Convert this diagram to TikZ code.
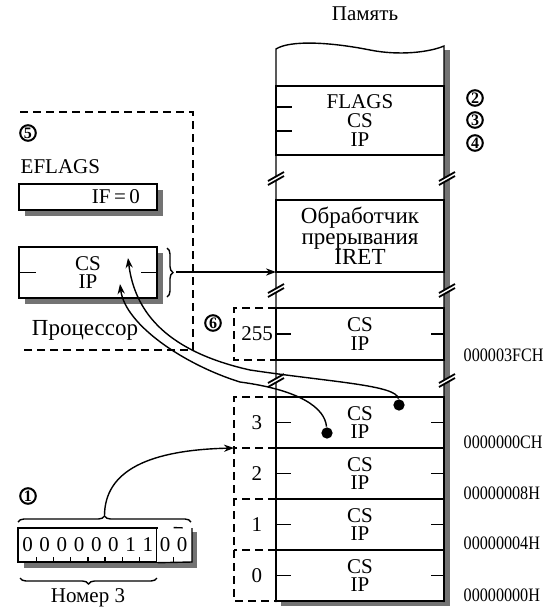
\documentclass[tikz,border=0pt]{standalone}
\usepackage{fontspec}
\setmainfont{Liberation Serif}
\newfontfamily\addrfont[FakeStretch=0.85]{Liberation Serif}
\usetikzlibrary{positioning,calc,arrows.meta,decorations.pathreplacing,shadows}

\begin{document}
\begin{tikzpicture}[x=0.5pt,y=-0.5pt,line width=0.7pt,
  >={Stealth[length=5pt,width=3.6pt]},
  every node/.style={font=\fontsize{10.5}{9.4}\selectfont,inner sep=0pt},
  big/.style={font=\fontsize{11.5}{10.2}\selectfont},
  cell/.style={draw,fill=white,outer sep=0pt,minimum width=84pt,minimum height=25.5pt,align=center},
  reg/.style={draw,fill=white,minimum width=69pt,align=center,
    drop shadow={shadow xshift=3pt,shadow yshift=-3pt,fill=black!55,opacity=1}},
  num/.style={circle,draw,line width=1pt,minimum size=7.8pt,font=\fontsize{8}{8}\bfseries\selectfont},
  addr/.style={anchor=west,font=\addrfont\fontsize{9.5}{10}\selectfont},
  dot/.style={circle,fill,inner sep=2pt},
  dsh/.style={dash pattern=on 4pt off 2.5pt},
  shd/.style={fill=black!55}]
\useasboundingbox (0,0) rectangle (553,612);

% memory
\node (mem) at (365,14) {Память};
\fill[shd] (444,50) rectangle (450,606);
\fill[shd] (281,602) rectangle (450,606);
\draw (276,602) -- (276,49) .. controls (290,40) and (330,42) .. (370,50)
  .. controls (400,56) and (430,52) .. (444,46) -- (444,602);
\node[cell,minimum height=34.5pt] (flags) at (360,120.5) {FLAGS\\CS\\IP};
\draw (276,107) -- ++(16,0) (276,131) -- ++(16,0);
\node[cell,big,minimum height=36pt] (handler) at (360,236) {Обработчик\\прерывания\\IRET};
\node[cell,minimum height=26pt] (v255) at (360,334) {CS\\IP};
\node[cell] (v3) at (360,422.5) {CS\\IP};
\node[cell,below=0pt of v3] (v2) {CS\\IP};
\node[cell,below=0pt of v2] (v1) {CS\\IP};
\node[cell,below=0pt of v1] (v0) {CS\\IP};
\foreach \c in {v255,v3,v2,v1,v0}
  \draw (\c.west) -- ++(15,0) (\c.east) -- ++(-13,0);
\foreach \x in {276,447} \foreach \y in {178,290,380} {
  \fill[white] (\x-8,\y+3) -- (\x+8,\y-6) -- (\x+8,\y-2) -- (\x-8,\y+7) -- cycle;
  \draw[line width=0.9pt] (\x-8,\y+3) -- (\x+8,\y-6) (\x-8,\y+7) -- (\x+8,\y-2);
}

% vector numbers
\node (i255) at ([xshift=-9.5pt]v255.west) {255};
\foreach \c/\t in {v3/3,v2/2,v1/1,v0/0}
  \node (i\t) at ([xshift=-9.5pt]\c.west) {\t};
\draw[dsh] (v255.north west) -- ++(-42,0) |- (v255.south west);
\draw[dsh] (v3.north west) -- ++(-42,0) |- (v0.south west);
\foreach \c in {v3,v2,v1}
  \draw[dsh] (\c.south west) -- ++(-42,0);

% addresses
\foreach \y/\t in {355/000003FCH,442/0000000CH,493/00000008H,543/00000004H,595/00000000H}
  \node[addr] (a\y) at (463,\y) {\t};

\node[num] (n2) at (475,98) {2};
\node[num] (n3) at (475,120) {3};
\node[num] (n4) at (475,143) {4};
\node[num] (n5) at (28,133) {5};
\node[num] (n6) at (213,323) {6};
\node[num] (n1) at (28,496) {1};

% processor
\draw[dsh] (20,112) -- (193,112) -- (193,350) -- (20,350);
\node[anchor=west] (eflt) at (20,167) {EFLAGS};
\node[reg,minimum height=13pt,text width=52pt,align=right] (eflags) at (88,197) {IF\,=\,0};
\node[reg,minimum height=25.5pt] (csip) at (88,272.5) {CS\\IP};
\draw (csip.west) -- ++(18,0) (csip.east) -- ++(-17,0);
\node[big] (proc) at (85,330) {Процессор};
\draw[decorate,decoration={brace,amplitude=3pt}] (167,248) -- (167,297);
\coordinate (bt) at (176,272);
\draw[->] (bt) -- (handler.south west);

% vector 3 -> CS:IP
\node[dot] (d1) at (327,433) {};
\node[dot] (d2) at (399,405) {};
\coordinate (cst) at (128,258);
\coordinate (ipt) at (120,284);
\draw[->] (d2) .. controls (397,385) and (330,382) .. (250,370)
  .. controls (170,352) and (135,315) .. (cst);
\draw[->] (d1) .. controls (325,408) and (300,390) .. (240,382)
  .. controls (185,365) and (125,325) .. (ipt);

% interrupt number
\fill[shd] (24,562) rectangle (197,568);
\fill[shd] (192,532) rectangle (197,568);
\node[draw,fill=white,minimum width=69.5pt,minimum height=17pt] (bits) at (87.5,545) {};
\fill[white] (157,529) rectangle (191.5,561.5);
\draw (bits.south east) -- (192,562) -- (192,528);
\draw[dash pattern=on 0pt off 8pt on 4.5pt off 20pt] (bits.north east) -- (192,528);
\foreach \b [count=\i] in {0,0,0,0,0,0,1,1}
  \node (b\i) at (10.3+17.2*\i,545) {\b};
\node (b9) at (165,545) {0};
\node (b10) at (182,545) {0};
\foreach \i in {1,...,7}
  \draw (19+17.2*\i,562) -- ++(0,-5);
\draw (173.5,562) -- ++(0,-5);
\draw[decorate,decoration={brace,amplitude=3pt}] (18,522) -- (191,522);
\coordinate (top) at (104.5,516);
\coordinate (in3) at ([xshift=-21pt]v3.south west);
\draw[->] (top) .. controls (104.5,470) and (150,450) .. (in3);
\draw[decorate,decoration={brace,amplitude=3pt}] (157,578) -- (20,578);
\node (nom) at (88,598) {Номер 3};
\end{tikzpicture}
\end{document}
